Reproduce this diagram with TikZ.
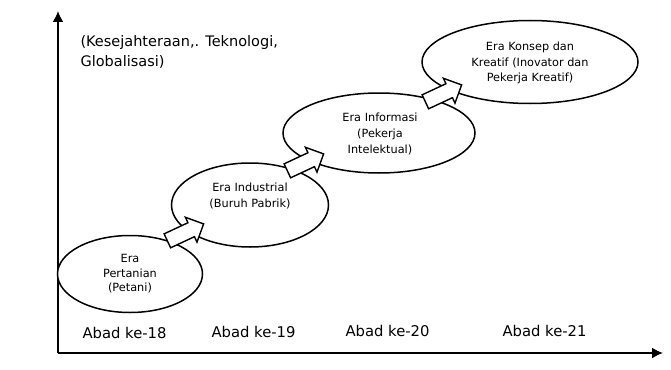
\documentclass[tikz,border=0pt]{standalone}
\usepackage{fontspec}
\setmainfont{DejaVu Sans}
\usetikzlibrary{shapes.geometric,shapes.arrows,arrows.meta}
\begin{document}
\begin{tikzpicture}[x=1pt,y=-1pt,
  era/.style={draw,line width=1.5pt,ellipse,inner sep=0pt,fill=white},
  eratext/.style={align=center,font=\fontsize{11.3}{15.8}\selectfont},
  lbl/.style={font=\fontsize{14.8}{18}\selectfont,anchor=west},
  barrow/.style={draw,line width=1.4pt,fill=white,single arrow,minimum height=40pt,inner xsep=0pt,inner ysep=7pt,single arrow head extend=6pt,single arrow head indent=0pt},
  axis/.style={line width=1.8pt,-{Latex[length=11pt,width=11pt]}}]
\useasboundingbox (0,0) rectangle (671,369);
\coordinate (o) at (58,353);
\coordinate (ytop) at (58,11);
\coordinate (xend) at (663,353);
\draw[axis] (o) -- (ytop);
\draw[axis] (o) -- (xend);

\node[anchor=west,align=left,font=\fontsize{14.5}{20}\selectfont] (title) at (77,52) {(Kesejahteraan,. Teknologi,\\Globalisasi)};

\node[era,minimum width=145pt,minimum height=77pt] (e1) at (130,274) {};
\node[eratext,font=\fontsize{11.3}{14.5}\selectfont] (t1) at (130,274) {Era\\Pertanian\\(Petani)};
\node[era,minimum width=157pt,minimum height=84pt] (e2) at (250,205) {};
\node[eratext] (t2) at (250,196) {Era Industrial\\(Buruh Pabrik)};
\node[era,minimum width=192pt,minimum height=80pt] (e3) at (379,133) {};
\node[eratext] (t3) at (380,134) {Era Informasi\\(Pekerja\\Intelektual)};
\node[era,minimum width=216pt,minimum height=83pt] (e4) at (530,62) {};
\node[eratext] (t4) at (530,63) {Era Konsep dan\\Kreatif (Inovator dan\\Pekerja Kreatif)};

\node[barrow,rotate=25] (a1) at (182,234) {};
\node[barrow,rotate=25] (a2) at (302,164) {};
\node[barrow,rotate=25] (a3) at (440,95) {};

\node[lbl] (c18) at (79,333) {Abad ke-18};
\node[lbl] (c19) at (208,332) {Abad ke-19};
\node[lbl] (c20) at (342,331) {Abad ke-20};
\node[lbl] (c21) at (499,331) {Abad ke-21};
\end{tikzpicture}
\end{document}
